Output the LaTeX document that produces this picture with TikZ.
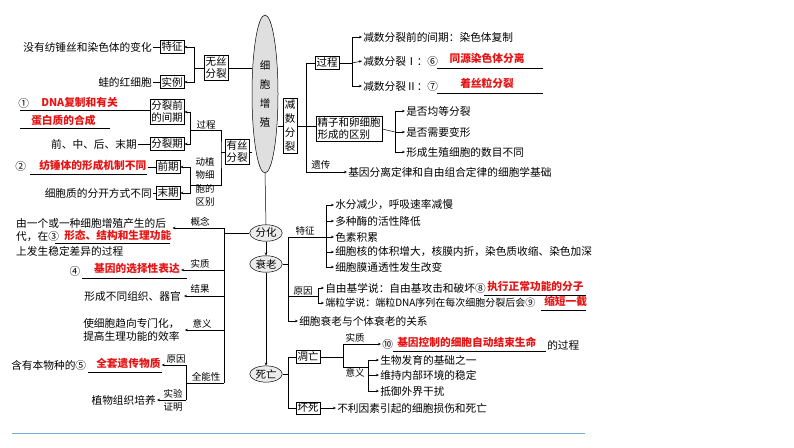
\documentclass[tikz,border=0pt]{standalone}
\usepackage{fontspec}
\setmainfont{Noto Sans CJK SC}
\usetikzlibrary{arrows.meta,positioning,shapes.geometric}
\definecolor{ansred}{RGB}{230,20,20}
\definecolor{lineblue}{RGB}{120,170,215}
\tikzset{
  box/.style={draw,inner sep=1.5pt,align=center,font=\fontsize{10.5}{12}\selectfont},
  txt/.style={inner sep=1pt,font=\fontsize{10.7}{13}\selectfont,align=left},
  lbl/.style={inner sep=1pt,font=\fontsize{9.5}{11}\selectfont,align=center},
  ans/.style={inner sep=1pt,text=ansred,font=\fontsize{10.7}{12}\selectfont\bfseries},
  oval/.style={draw,ellipse,fill=gray!15,inner sep=1pt,font=\fontsize{10.5}{12}\selectfont},
  arr/.style={-{Stealth[length=3pt,width=2.5pt]}}
}
\begin{document}
\begin{tikzpicture}[x=1pt,y=-1pt,line width=0.5pt]
\useasboundingbox (0,0) rectangle (794,447);
% center
\node[draw,ellipse,fill=gray!25,minimum width=26,minimum height=158,inner sep=0,align=center,font=\fontsize{10.5}{19}\selectfont] (zz) at (265,94) {细\\胞\\增\\殖};
\node[oval] (fh) at (266,233) {分化};
\node[oval] (sl) at (266,264) {衰老};
\node[oval] (sw) at (266,374) {死亡};
\draw (zz.south) -- (fh.north);
\draw[arr] (fh) -- (sl);
\draw[arr] (sl) -- (sw);
% amitosis
\node[box] (wszl) at (216,68) {无丝\\分裂};
\node[box] (tz) at (172,47) {特征};
\node[box] (sl1) at (172,82) {实例};
\node[txt,anchor=east] (tz1) at (153,47) {没有纺锤丝和染色体的变化};
\node[txt,anchor=east] (sl2) at (153,82) {蛙的红细胞};
\coordinate (j1) at (194,68);
\draw (wszl.west) -- (j1);
\draw[arr] (j1) |- (tz.east);
\draw[arr] (j1) |- (sl1.east);
\draw (tz.west) -- (tz1.east);
\draw (sl1.west) -- (sl2.east);
\draw (wszl.east) -- (wszl.east -| zz.west);
% mitosis
\node[box] (yszl) at (237,152) {有丝\\分裂};
\draw (yszl.east) -- (yszl.east -| zz.west);
\node[box] (jq) at (167,112) {分裂前\\的间期};
\node[box] (flq) at (167,144) {分裂期};
\node[box] (qq) at (168,167) {前期};
\node[box] (mq) at (168,193) {末期};
\coordinate (j2) at (221,152);
\coordinate (gc) at (190,130);
\coordinate (qb) at (190,185);
\draw (yszl.west) -- (j2);
\draw (gc) -| (j2) |- (qb);
\node[lbl,anchor=south] at (206,130) {过程};
\node[lbl,font=\fontsize{9.5}{13.5}\selectfont] at (205,182) {动植\\物细\\胞的\\区别};
\draw[arr] (gc) |- (jq.east);
\draw[arr] (gc) |- (flq.east);
\draw[arr] (qb) |- (qq.east);
\draw[arr] (qb) |- (mq.east);
\node[txt,anchor=west] (n1) at (17,103) {①};
\node[ans,anchor=west] (a1) at (40,102) {DNA复制和有关};
\node[ans,anchor=west] (a1b) at (30,120) {蛋白质的合成};
\draw (20,110) -- (jq.west |- 0,110);
\draw (20,128) -- (110,128);
\node[txt,anchor=east] (qz) at (138,144) {前、中、后、末期};
\draw (qz.east) -- (flq.west);
\node[txt,anchor=west] (n2) at (14,166) {②};
\node[ans,anchor=west] (a2) at (38,165) {纺锤体的形成机制不同};
\draw (30,174) -- (147,174);
\draw (a2.east |- qq.west) -- (qq.west);
\node[txt,anchor=east] (xbz) at (153,193) {细胞质的分开方式不同};
\draw (xbz.east) -- (mq.west);
% meiosis
\node[box,font=\fontsize{10.5}{14}\selectfont] (js) at (290,126) {减\\数\\分\\裂};
\draw (zz.east |- js.west) -- (js.west);
\node[box] (gc2) at (327,63) {过程};
\node[box,align=left] (jz) at (349,129) {精子和卵细胞\\形成的区别};
\coordinate (j3) at (306,126);
\coordinate (yc) at (306,172);
\draw (js.east) -- (j3);
\draw (gc2.west) -| (yc);
\draw (j3) -- (jz.west |- j3);
\node[lbl,anchor=south west] at (310,171) {遗传};
\node[txt,anchor=west] (jy) at (347,172) {基因分离定律和自由组合定律的细胞学基础};
\draw[arr] (yc) -- (jy.west);
\coordinate (j4) at (352,63);
\draw (gc2.east) -- (j4);
\node[txt,anchor=west] (m1) at (362,37) {减数分裂前的间期：染色体复制};
\node[txt,anchor=west] (m2) at (362,61) {减数分裂Ⅰ：⑥};
\node[txt,anchor=west] (m3) at (362,86) {减数分裂Ⅱ：⑦};
\draw[arr] (j4) |- (m1.west);
\draw[arr] (j4) -- (m2.west);
\draw[arr] (j4) |- (m3.west);
\node[ans] (a6) at (487,58) {同源染色体分离};
\node[ans] (a7) at (487,83) {着丝粒分裂};
\draw (437,68) -- (543,68);
\draw (437,93) -- (543,93);
\coordinate (j5) at (395,132);
\draw (jz.east) -- (j5);
\node[txt,anchor=west] (q1) at (405,111) {是否均等分裂};
\node[txt,anchor=west] (q2) at (405,132) {是否需要变形};
\node[txt,anchor=west] (q3) at (405,152) {形成生殖细胞的数目不同};
\draw[arr] (j5) |- (q1.west);
\draw[arr] (j5) -- (q2.west);
\draw[arr] (j5) |- (q3.west);
% differentiation
\coordinate (j6) at (224,233);
\draw (fh.west) -- (j6);
\coordinate (gn) at (224,228);
\coordinate (sz) at (224,270);
\coordinate (jg) at (224,296);
\coordinate (yy) at (224,330);
\coordinate (qn) at (224,383);
\draw (gn) -- (qn);
\node[lbl,anchor=south] at (200,228) {概念};
\node[lbl,anchor=south] at (200,269) {实质};
\node[lbl,anchor=south] at (200,295) {结果};
\node[lbl,anchor=south] at (202,329) {意义};
\node[lbl,anchor=south] at (206,382) {全能性};
\node[txt,anchor=west] (gn1) at (15,223) {由一个或一种细胞增殖产生的后};
\node[txt,anchor=west] (gn2) at (15,237) {代，在③};
\node[txt,anchor=west] (gn3) at (15,251) {上发生稳定差异的过程};
\node[ans,anchor=west] (a3) at (63,235) {形态、结构和生理功能};
\draw (55,243) -- (170,243);
\draw[arr] (gn) -- (a3.east |- gn);
\node[txt] (n4) at (75,271) {④};
\node[ans] (a4) at (137,269) {基因的选择性表达};
\draw (82,278) -- (187,278);
\draw[arr] (sz) -- (a4.east |- sz);
\node[txt,anchor=east] (jg1) at (182,296) {形成不同组织、器官};
\draw[arr] (jg) -- ([xshift=2]jg1.east);
\node[txt,anchor=west] (yy1) at (82,330) {使细胞趋向专门化，\\提高生理功能的效率};
\draw[arr] (yy) -- ([xshift=4]yy1.east);
\coordinate (j7) at (186,383);
\draw (qn) -- (j7);
\coordinate (yy2) at (186,365);
\coordinate (sy) at (186,400);
\draw (yy2) -- (sy);
\node[lbl,anchor=south] at (176,364) {原因};
\node[lbl,font=\fontsize{9.5}{13}\selectfont] at (173,400) {实验\\证明};
\node[txt,anchor=west] (qy) at (10,365) {含有本物种的⑤};
\node[ans,anchor=west] (a5) at (95,363) {全套遗传物质};
\draw (88,372) -- (162,372);
\draw[arr] (yy2) -- (a5.east |- yy2);
\node[txt,anchor=east] (zw) at (157,400) {植物组织培养};
\draw[arr] (sy) -- (zw.east);
% senescence
\coordinate (j8) at (288,264);
\draw (sl.east) -- (j8);
\coordinate (tz2) at (288,237);
\coordinate (gx) at (288,321);
\coordinate (yy3) at (288,296);
\draw (tz2) -- (gx);
\node[lbl,anchor=south] at (305,237) {特征};
\coordinate (j9) at (326,237);
\draw (tz2) -- (j9);
\node[txt,anchor=west] (s1) at (334,205) {水分减少，呼吸速率减慢};
\node[txt,anchor=west] (s2) at (334,221) {多种酶的活性降低};
\node[txt,anchor=west] (s3) at (334,237) {色素积累};
\node[txt,anchor=west] (s4) at (334,252) {细胞核的体积增大，核膜内折，染色质收缩、染色加深};
\node[txt,anchor=west] (s5) at (334,267) {细胞膜通透性发生改变};
\draw[arr] (j9) |- (s1.west);
\draw[arr] (j9) |- (s2.west);
\draw[arr] (j9) -- (s3.west);
\draw[arr] (j9) |- (s4.west);
\draw[arr] (j9) |- (s5.west);
\node[lbl,anchor=south] at (303,296) {原因};
\coordinate (j10) at (318,296);
\draw (yy3) -- (j10);
\node[txt,anchor=west] (r1) at (324,288) {自由基学说：自由基攻击和破坏⑧};
\node[txt,anchor=west,font=\fontsize{10}{12}\selectfont] (r2) at (324,303) {端粒学说：端粒DNA序列在每次细胞分裂后会⑨};
\draw[arr] (j10) |- (r1.west);
\draw[arr] (j10) |- (r2.west);
\node[ans,anchor=west] (a8) at (486,286) {执行正常功能的分子};
\node[ans,anchor=west] (a9) at (543,301) {缩短一截};
\draw (484,295) -- (586,295);
\draw (541,310) -- (586,310);
\node[txt,anchor=west] (gx1) at (298,321) {细胞衰老与个体衰老的关系};
\draw[arr] (gx) -- (gx1.west);
% death
\coordinate (j11) at (288,374);
\draw (sw.east) -- (j11);
\node[box] (dw) at (308,357) {凋亡};
\node[box] (hs) at (308,408) {坏死};
\draw (dw.west -| j11) -- (hs.west -| j11);
\draw (dw.west -| j11) -- (dw.west);
\draw (hs.west -| j11) -- (hs.west);
\coordinate (j12) at (343,357);
\draw (dw.east) -- (j12);
\coordinate (sz2) at (343,344);
\coordinate (yy4) at (343,367);
\draw (sz2) -- (yy4) -- (368,367);
\node[lbl,anchor=south] at (355,343) {实质};
\node[lbl,anchor=north] at (355,367) {意义};
\node[txt,anchor=west] (n10) at (381,344) {⑩};
\draw[arr] (sz2) -- (n10.west);
\node[ans,anchor=west] (a10) at (396,342) {基因控制的细胞自动结束生命};
\draw (393,351) -- (546,351);
\node[txt,anchor=west] (gc3) at (546,345) {的过程};
\node[txt,anchor=west] (d1) at (379,360) {生物发育的基础之一};
\node[txt,anchor=west] (d2) at (379,375) {维持内部环境的稳定};
\node[txt,anchor=west] (d3) at (379,391) {抵御外界干扰};
\draw[arr] (368,360) -- (d1.west);
\draw[arr] (368,375) -- (d2.west);
\draw[arr] (368,360) |- (d3.west);
\node[txt,anchor=west] (hs1) at (336,408) {不利因素引起的细胞损伤和死亡};
\draw[arr] (hs.east) -- (hs1.west);
% bottom rule
\draw[lineblue,line width=1pt] (12,433) -- (585,433);
\end{tikzpicture}
\end{document}
